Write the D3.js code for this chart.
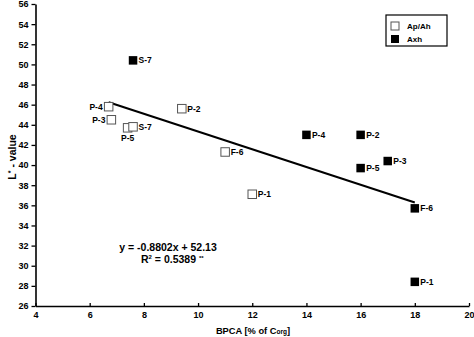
<!DOCTYPE html>
<html>
<head>
<meta charset="utf-8">
<script src="https://cdn.jsdelivr.net/npm/d3@7"></script>
<style>
  html, body { margin: 0; padding: 0; background: #fff; }
  svg text { font-family: "Liberation Sans", Arial, sans-serif; font-weight: bold; fill: #000; }
</style>
</head>
<body>
<svg id="chart" width="474" height="337"></svg>
<script>
// Ap/Ah horizons (open squares)
const apNames = ["P-4", "P-3", "P-5", "S-7", "P-2", "F-6", "P-1"];
const apBpca  = [6.7, 6.8, 7.4, 7.6, 9.4, 11.0, 12.0];
const apL     = [45.8, 44.5, 43.7, 43.8, 45.6, 41.3, 37.1];
const apLabelSide = ["left", "left", "below", "right", "right", "right", "right"];

// Axh horizons (filled squares)
const axNames = ["S-7", "P-4", "P-2", "P-3", "P-5", "F-6", "P-1"];
const axBpca  = [7.6, 14.0, 16.0, 17.0, 16.0, 18.0, 18.0];
const axL     = [50.4, 43.0, 43.0, 40.4, 39.7, 35.7, 28.4];

// Linear fit across all samples
const fitSlope = -0.8802;
const fitIntercept = 52.13;
const fitRange = [6.7, 18.0];

const xTicks = [4, 6, 8, 10, 12, 14, 16, 18, 20];
const yTicks = [26, 28, 30, 32, 34, 36, 38, 40, 42, 44, 46, 48, 50, 52, 54, 56];

const svg = d3.select("#chart");
const x = d3.scaleLinear().domain([4, 20]).range([35.5, 469]);
const y = d3.scaleLinear().domain([26, 56]).range([306, 4]);

// axes
const xAxis = svg.append("g").attr("transform", `translate(0,${y(26)})`)
  .call(d3.axisBottom(x).tickValues(xTicks).tickSize(-3).tickSizeOuter(0).tickPadding(6));
const yAxis = svg.append("g").attr("transform", `translate(${x(4)},0)`)
  .call(d3.axisLeft(y).tickValues(yTicks).tickSize(4).tickSizeOuter(0).tickPadding(3));
[xAxis, yAxis].forEach(g => {
  g.select(".domain").attr("stroke", "#000").attr("stroke-width", 1.6);
  g.selectAll(".tick line").attr("stroke", "#000").attr("stroke-width", 1.3);
  g.selectAll(".tick text").style("font-size", "9px").style("font-family", "Liberation Sans, Arial, sans-serif").style("font-weight", "bold").attr("fill", "#000");
});

// axis titles
const yt = svg.append("text")
  .attr("transform", `translate(16,${(y(26) + y(56)) / 2 + 2}) rotate(-90)`)
  .attr("text-anchor", "middle").style("font-size", "10.5px");
yt.append("tspan").text("L");
yt.append("tspan").text("*").attr("dy", -3).style("font-size", "7px");
yt.append("tspan").text(" - value").attr("dy", 3);

const xt = svg.append("text")
  .attr("x", 253).attr("y", 334)
  .attr("text-anchor", "middle").style("font-size", "9.3px");
xt.append("tspan").text("BPCA [% of C");
xt.append("tspan").text("org").style("font-size", "6.5px");
xt.append("tspan").text("]");

// regression line
svg.append("line")
  .attr("x1", x(fitRange[0])).attr("y1", y(fitSlope * fitRange[0] + fitIntercept))
  .attr("x2", x(fitRange[1])).attr("y2", y(fitSlope * fitRange[1] + fitIntercept))
  .attr("stroke", "#000").attr("stroke-width", 2);

const sz = 8.5;
const apData = apNames.map((n, i) => ({ name: n, bx: apBpca[i], l: apL[i], side: apLabelSide[i] }));
const axData = axNames.map((n, i) => ({ name: n, bx: axBpca[i], l: axL[i], side: "right" }));

svg.selectAll(".ap").data(apData).join("rect")
  .attr("x", d => x(d.bx) - sz / 2).attr("y", d => y(d.l) - sz / 2)
  .attr("width", sz).attr("height", sz)
  .attr("fill", "#fff").attr("stroke", "#555").attr("stroke-width", 1);

svg.selectAll(".ax").data(axData).join("rect")
  .attr("x", d => x(d.bx) - sz / 2).attr("y", d => y(d.l) - sz / 2)
  .attr("width", sz).attr("height", sz)
  .attr("fill", "#000");

function labelPos(d) {
  const px = x(d.bx), py = y(d.l);
  if (d.side === "left") return { x: px - 6, y: py + 3, anchor: "end" };
  if (d.side === "below") return { x: px, y: py + 13, anchor: "middle" };
  return { x: px + 5.5, y: py + 3, anchor: "start" };
}
svg.selectAll(".lbl").data(apData.concat(axData)).join("text")
  .attr("x", d => labelPos(d).x).attr("y", d => labelPos(d).y)
  .attr("text-anchor", d => labelPos(d).anchor)
  .style("font-size", "8.5px").text(d => d.name);

// equation
svg.append("text").attr("x", 168).attr("y", 251).attr("text-anchor", "middle")
  .style("font-size", "10.5px").text(`y = ${fitSlope}x + ${fitIntercept}`);
const r2 = svg.append("text").attr("x", 141).attr("y", 263).style("font-size", "10.5px");
r2.append("tspan").text("R");
r2.append("tspan").text("2").attr("dy", -4).style("font-size", "6px");
r2.append("tspan").text(" = 0.5389 ").attr("dy", 4);
r2.append("tspan").text("**").attr("dy", -3).style("font-size", "6px");

// legend
const lg = svg.append("g");
lg.append("rect").attr("x", 386).attr("y", 15).attr("width", 61).attr("height", 31)
  .attr("fill", "#fff").attr("stroke", "#000").attr("stroke-width", 1.2);
const legendItems = [{ label: "Ap/Ah", fill: "#fff", stroke: "#555" }, { label: "Axh", fill: "#000", stroke: "none" }];
legendItems.forEach((it, i) => {
  const cy = 26 + i * 13;
  lg.append("rect").attr("x", 391).attr("y", cy - 4).attr("width", 8).attr("height", 8)
    .attr("fill", it.fill).attr("stroke", it.stroke);
  lg.append("text").attr("x", 407).attr("y", cy + 3).style("font-size", "8px").text(it.label);
});
</script>
</body>
</html>
